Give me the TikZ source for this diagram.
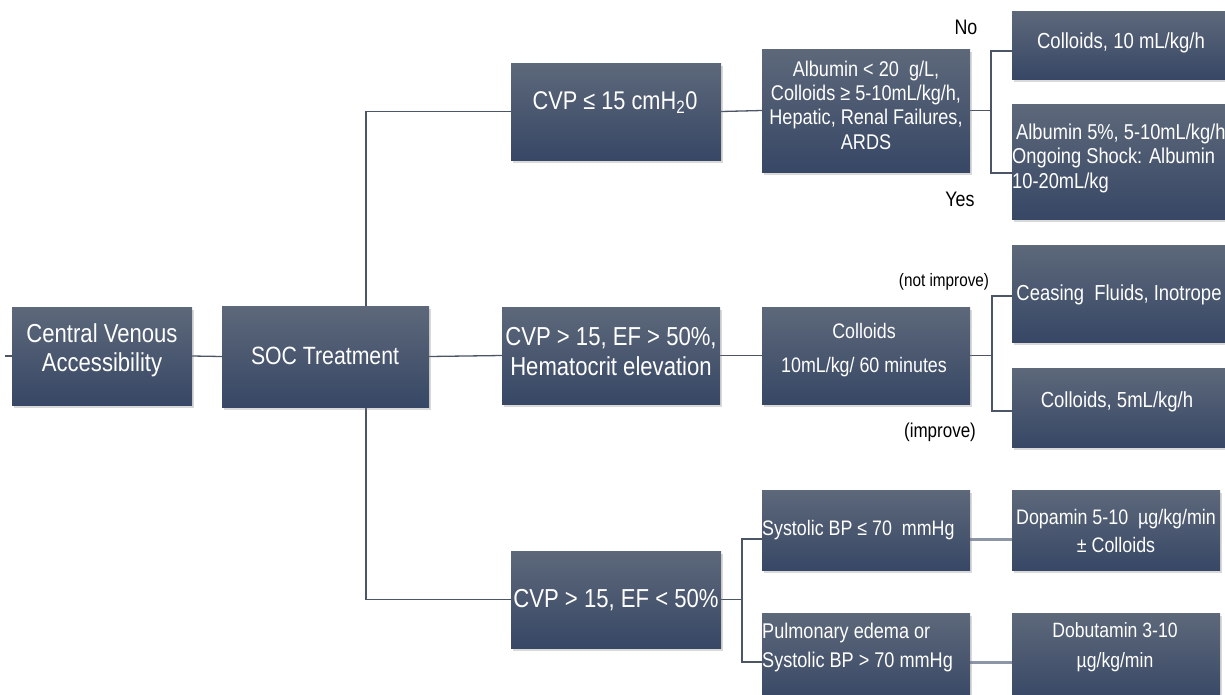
\documentclass[tikz,border=0pt]{standalone}
\usepackage{fontspec}
\setmainfont{Liberation Sans}[FakeStretch=0.85]
\usetikzlibrary{fit,shadows,backgrounds}
\definecolor{boxtop}{RGB}{93,104,122}
\definecolor{boxbot}{RGB}{55,71,101}
\definecolor{connc}{RGB}{75,85,102}
\definecolor{connlight}{RGB}{140,150,166}
\tikzset{
  box/.style={inner sep=0pt, draw=none, top color=boxtop, bottom color=boxbot,
    drop shadow={shadow xshift=2pt, shadow yshift=-3pt, opacity=0.3}},
  txt/.style={text=white, inner sep=0pt, align=center},
  lbl/.style={text=black, inner sep=0pt},
  conn/.style={draw=connc, line width=1.3pt},
  connlt/.style={draw=connlight, line width=3pt},
}
\newcommand{\fsz}[2]{\fontsize{#1}{#2}\selectfont}
\begin{document}
\begin{tikzpicture}[x=1pt,y=-1pt]
\useasboundingbox (0,0) rectangle (1225,694);
\begin{scope}
\clip (0,0) rectangle (1225,694);
% boxes
\node[box, fit={(12,307) (192,405)}] (cva) {};
\node[box, fit={(222,306) (429,407)}] (soc) {};
\node[box, fit={(511,63) (721,160)}] (cvp1) {};
\node[box, fit={(502,307) (720,404)}] (cvp2) {};
\node[box, fit={(511,551) (721,648)}] (cvp3) {};
\node[box, fit={(762,49) (970,172)}] (alb) {};
\node[box, fit={(762,307) (970,404)}] (col60) {};
\node[box, fit={(762,490) (970,570)}] (sys) {};
\node[box, fit={(762,613) (970,702)}] (pul) {};
\node[box, fit={(1012,11) (1232,79)}] (col10) {};
\node[box, fit={(1012,104) (1232,219)}] (alb5) {};
\node[box, fit={(1012,245) (1232,342)}] (ceas) {};
\node[box, fit={(1012,368) (1232,447)}] (col5) {};
\node[box, fit={(1012,490) (1220,570)}] (dop) {};
\node[box, fit={(1012,613) (1220,702)}] (dob) {};
% texts
\node[txt, font=\fsz{26}{29}] (cva-t) at (102,350) {Central Venous\\Accessibility};
\node[txt, font=\fsz{25}{29}] (soc-t) at (325,356) {SOC Treatment};
\node[txt, font=\fsz{25.6}{29}] (cvp1-t) at (615,103) {CVP ≤ 15 cmH\textsubscript{2}0};
\node[txt, font=\fsz{26}{30}] (cvp2-t) at (611,352) {CVP > 15, EF > 50\%,\\Hematocrit elevation};
\node[txt, font=\fsz{26}{30}] (cvp3-t) at (616,600) {CVP > 15, EF < 50\%};
\node[txt, font=\fsz{21.3}{24.3}] (alb-t) at (866,105) {Albumin < 20\ \ g/L,\\Colloids ≥ 5-10mL/kg/h,\\Hepatic, Renal Failures,\\ARDS};
\node[txt, font=\fsz{21}{34}] (col60-t) at (864,350) {Colloids\\10mL/kg/ 60 minutes};
\node[txt, font=\fsz{21}{28}, anchor=west] (sys-t) at (762,530) {Systolic BP ≤ 70 \ mmHg};
\node[txt, font=\fsz{21.3}{29}, anchor=west, align=left] (pul-t) at (762,647) {Pulmonary edema or\\Systolic BP > 70 mmHg};
\node[txt, font=\fsz{21.8}{24}] (col10-t) at (1121,43) {Colloids, 10 mL/kg/h};
\node[txt, font=\fsz{21.5}{24.5}, anchor=west, align=left] (alb5-t) at (1012,158) {\hspace*{4pt}Albumin 5\%, 5-10mL/kg/h\\Ongoing Shock: Albumin\\10-20mL/kg};
\node[txt, font=\fsz{21.7}{26}] (ceas-t) at (1119,295) {Ceasing \ Fluids, Inotrope};
\node[txt, font=\fsz{21.8}{24}] (col5-t) at (1117,402) {Colloids, 5mL/kg/h};
\node[txt, font=\fsz{21}{28}] (dop-t) at (1116,531) {Dopamin 5-10 \ µg/kg/min\\± Colloids};
\node[txt, font=\fsz{20.7}{30}] (dob-t) at (1115,647) {Dobutamin 3-10\\µg/kg/min};
% labels
\node[lbl, font=\fsz{21}{22}] (no) at (966,27) {No};
\node[lbl, font=\fsz{21}{22}] (yes) at (960,199) {Yes};
\node[lbl, font=\fsz{18}{22}] (notimp) at (944,282) {(not improve)};
\node[lbl, font=\fsz{20}{22}] (imp) at (940,432) {(improve)};
\end{scope}
% junction coordinates
\coordinate (in) at (5,356);
\coordinate (t) at (366,0);
\coordinate (j1a) at (991,51);
\coordinate (j1b) at (991,173);
\coordinate (j2a) at (992,296);
\coordinate (j2b) at (992,411);
\coordinate (j3a) at (742,539);
\coordinate (j3b) at (742,662);
\begin{scope}[on background layer]
\draw[conn] (in) -- (cva.west);
\draw[conn] (cva.east) -- (soc.west);
\draw[conn] (soc.east) -- (cvp2.west);
\draw[conn] (cvp1.west) -- (cvp1.west -| t) -- (cvp3.west -| t) -- (cvp3.west);
\draw[conn] (cvp1.east) -- (alb.west);
\draw[conn] (cvp2.east) -- (col60.west);
\draw[conn] (alb.east) -- (alb.east -| j1a);
\draw[conn] (col10.west |- j1a) -- (j1a) -- (j1b) -- (alb5.west |- j1b);
\draw[conn] (col60.east) -- (col60.east -| j2a);
\draw[conn] (ceas.west |- j2a) -- (j2a) -- (j2b) -- (col5.west |- j2b);
\draw[conn] (cvp3.east) -- (cvp3.east -| j3a);
\draw[conn] (sys.west |- j3a) -- (j3a) -- (j3b) -- (pul.west |- j3b);
\draw[connlt] (sys.east |- j3a) -- (dop.west |- j3a);
\draw[connlt] (pul.east |- j3b) -- (dob.west |- j3b);
\end{scope}
\end{tikzpicture}
\end{document}
